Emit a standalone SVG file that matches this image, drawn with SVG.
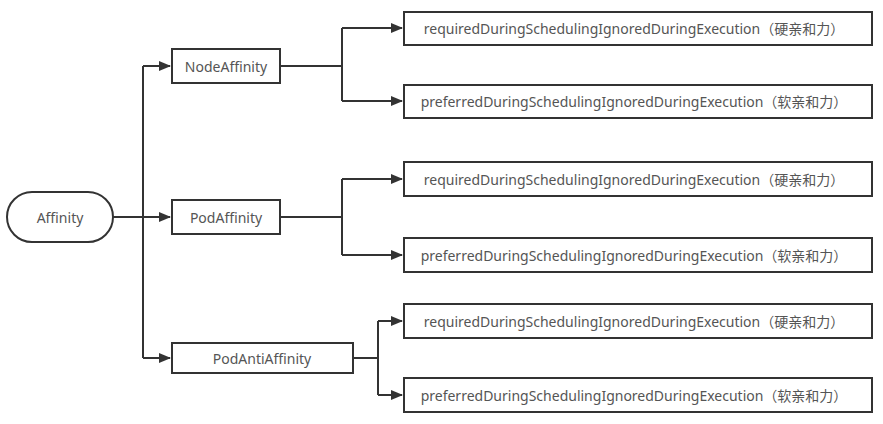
<svg xmlns="http://www.w3.org/2000/svg" width="883" height="424" viewBox="0 0 883 424">
  <defs>
    <marker id="arrow" markerWidth="12" markerHeight="10" refX="11" refY="5" orient="auto" markerUnits="userSpaceOnUse">
      <path d="M0,0 L12,5 L0,10 Z" fill="#333"/>
    </marker>
    <style>
      .box { fill: #fff; stroke: #333; stroke-width: 2; }
      .lbl { font-family: "Noto Sans", "Noto Sans CJK SC", sans-serif; font-size: 14px; fill: #555; text-anchor: middle; dominant-baseline: central; }
      .edge { fill: none; stroke: #333; stroke-width: 2; }
    </style>
  </defs>
  <rect width="883" height="424" fill="#fff"/>

  <g id="connectors">
    <!-- root trunk -->
    <path class="edge" d="M113,217 H170" marker-end="url(#arrow)"/>
    <path class="edge" d="M143,358 V66"/>
    <path class="edge" d="M143,66 H170" marker-end="url(#arrow)"/>
    <path class="edge" d="M143,358 H170" marker-end="url(#arrow)"/>
    <!-- NodeAffinity branches -->
    <path class="edge" d="M280,66 H342"/>
    <path class="edge" d="M342,28 V101"/>
    <path class="edge" d="M342,28 H402" marker-end="url(#arrow)"/>
    <path class="edge" d="M342,101 H402" marker-end="url(#arrow)"/>
    <!-- PodAffinity branches -->
    <path class="edge" d="M280,217 H342"/>
    <path class="edge" d="M342,179 V255"/>
    <path class="edge" d="M342,179 H402" marker-end="url(#arrow)"/>
    <path class="edge" d="M342,255 H402" marker-end="url(#arrow)"/>
    <!-- PodAntiAffinity branches -->
    <path class="edge" d="M353,358 H378"/>
    <path class="edge" d="M378,321 V395"/>
    <path class="edge" d="M378,321 H402" marker-end="url(#arrow)"/>
    <path class="edge" d="M378,395 H402" marker-end="url(#arrow)"/>
  </g>

  <g id="affinity">
    <rect class="box" x="7" y="192" width="106" height="50" rx="25" ry="25"/>
    <text class="lbl" x="60" y="217">Affinity</text>
  </g>

  <g id="node-affinity">
    <rect class="box" x="172" y="49" width="108" height="34"/>
    <text class="lbl" x="226" y="66">NodeAffinity</text>
  </g>
  <g id="pod-affinity">
    <rect class="box" x="172" y="200" width="108" height="34"/>
    <text class="lbl" x="226" y="217">PodAffinity</text>
  </g>
  <g id="pod-anti-affinity">
    <rect class="box" x="172" y="343" width="181" height="30"/>
    <text class="lbl" x="262" y="358">PodAntiAffinity</text>
  </g>

  <g id="node-required">
    <rect class="box" x="404" y="12" width="468" height="33"/>
    <text class="lbl" x="634" y="28.5">requiredDuringSchedulingIgnoredDuringExecution（硬亲和力）</text>
  </g>
  <g id="node-preferred">
    <rect class="box" x="404" y="85" width="468" height="33"/>
    <text class="lbl" x="634" y="101.5">preferredDuringSchedulingIgnoredDuringExecution（软亲和力）</text>
  </g>
  <g id="pod-required">
    <rect class="box" x="404" y="162" width="468" height="34"/>
    <text class="lbl" x="634" y="179">requiredDuringSchedulingIgnoredDuringExecution（硬亲和力）</text>
  </g>
  <g id="pod-preferred">
    <rect class="box" x="404" y="238" width="468" height="34"/>
    <text class="lbl" x="634" y="255">preferredDuringSchedulingIgnoredDuringExecution（软亲和力）</text>
  </g>
  <g id="anti-required">
    <rect class="box" x="404" y="304" width="468" height="34"/>
    <text class="lbl" x="634" y="321">requiredDuringSchedulingIgnoredDuringExecution（硬亲和力）</text>
  </g>
  <g id="anti-preferred">
    <rect class="box" x="404" y="378" width="468" height="34"/>
    <text class="lbl" x="634" y="395">preferredDuringSchedulingIgnoredDuringExecution（软亲和力）</text>
  </g>
</svg>
